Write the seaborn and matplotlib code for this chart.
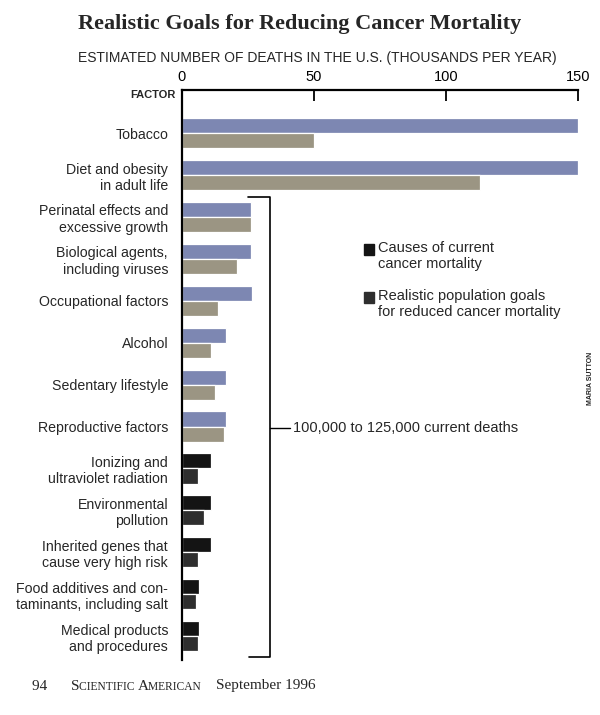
import pandas as pd
import matplotlib.pyplot as plt
import seaborn as sns
from matplotlib.patches import Rectangle
from matplotlib.offsetbox import TextArea, HPacker, AnchoredOffsetbox

# Données (milliers de décès par an)
factors = [
    "Tobacco",
    "Diet and obesity\nin adult life",
    "Perinatal effects and\nexcessive growth",
    "Biological agents,\nincluding viruses",
    "Occupational factors",
    "Alcohol",
    "Sedentary lifestyle",
    "Reproductive factors",
    "Ionizing and\nultraviolet radiation",
    "Environmental\npollution",
    "Inherited genes that\ncause very high risk",
    "Food additives and con-\ntaminants, including salt",
    "Medical products\nand procedures",
]
current = [150, 150, 26, 26, 26.5, 16.5, 16.5, 16.5, 11, 11, 11, 6.3, 6.5]
goal = [50, 113, 26, 21, 13.5, 11, 12.5, 16, 6, 8.5, 6, 5.3, 6]
series = ["Causes of current\ncancer mortality",
          "Realistic population goals\nfor reduced cancer mortality"]
n_dark = 5  # les derniers facteurs sont en noir

sns.set_theme(style="white")
plt.rcParams['font.family'] = ['Liberation Sans', 'DejaVu Sans']

data = pd.DataFrame({
    "factor": factors * 2,
    "deaths": current + goal,
    "series": [series[0]] * len(factors) + [series[1]] * len(factors),
})

fig = plt.figure(figsize=(6, 7.15), dpi=100)
ax = fig.add_axes([182 / 600, 1 - 660 / 715, 396 / 600, 570 / 715])

sns.barplot(data=data, y="factor", x="deaths", hue="series", order=factors,
            hue_order=series, palette=["#7d87b2", "#9b9583"], orient="h",
            width=0.72, errorbar=None, legend=False, ax=ax, saturation=1,
            linewidth=0.9, edgecolor="white")

# les cinq derniers facteurs en noir / gris foncé
for i, bar in enumerate(ax.containers[0]):
    if i >= len(factors) - n_dark:
        bar.set_facecolor("#141414")
for i, bar in enumerate(ax.containers[1]):
    if i >= len(factors) - n_dark:
        bar.set_facecolor("#2e2e2e")

ax.set_xlim(0, 150)
ax.set_ylim(12.57, -1.03)
ax.xaxis.tick_top()
ax.set_xticks([0, 50, 100, 150])
ax.tick_params(axis="x", direction="in", length=8, width=1.3, labelsize=10.5,
               pad=4, colors="black")
ax.tick_params(axis="y", length=0, pad=10, labelsize=10.2)
ax.set_xlabel("")
ax.set_ylabel("")
for s in ["right", "bottom"]:
    ax.spines[s].set_visible(False)
for s in ["top", "left"]:
    ax.spines[s].set_color("black")
    ax.spines[s].set_linewidth(1.6)
    ax.spines[s].set_zorder(5)

# crochet "100,000 to 125,000"
bx = 33.3
ax.plot([25, bx, bx, 25.5], [1.53, 1.53, 12.5, 12.5], color="black", lw=1.2,
        clip_on=False)
ax.plot([bx, 41], [7.04, 7.04], color="black", lw=1.0, clip_on=False)
ax.text(42, 7.04, "100,000 to 125,000 current deaths", va="center",
        ha="left", fontsize=10.5)

# légende
for ytop, col, lab in [(244, "#141414", series[0]), (292, "#2e2e2e", series[1])]:
    fig.patches.append(Rectangle((364 / 600, 1 - (ytop + 11) / 715), 10 / 600, 11 / 715,
                                 transform=fig.transFigure, color=col))
    fig.text(378 / 600, 1 - (ytop - 3) / 715, lab, ha="left", va="top",
             fontsize=10.5, linespacing=1.15)

# titres
fig.text(0.5, 1 - 24 / 715, "Realistic Goals for Reducing Cancer Mortality",
         ha="center", va="center", fontsize=16, fontweight="bold",
         family="Liberation Serif")
fig.text(317 / 600, 1 - 58 / 715,
         "ESTIMATED NUMBER OF DEATHS IN THE U.S. (THOUSANDS PER YEAR)",
         ha="center", va="center", fontsize=10)
fig.text(176 / 600, 1 - 95 / 715, "FACTOR", ha="right", va="center",
         fontsize=8, fontweight="bold")
fig.text(590 / 600, 1 - 378 / 715, "MARIA SUTTON", rotation=90, ha="center",
         va="center", fontsize=5, fontweight="bold")

# pied de page façon revue
big = dict(fontsize=11, family="Liberation Serif")
small = dict(fontsize=8.3, family="Liberation Serif")
parts = [TextArea("94      ", textprops=big), TextArea("S", textprops=big),
         TextArea("CIENTIFIC ", textprops=small), TextArea("A", textprops=big),
         TextArea("MERICAN     ", textprops=small),
         TextArea("September 1996", textprops=big)]
footer = HPacker(children=parts, align="baseline", pad=0, sep=0)
box = AnchoredOffsetbox(loc="center left", child=footer, frameon=False,
                        bbox_to_anchor=(32 / 600, 1 - 686 / 715),
                        bbox_transform=fig.transFigure, borderpad=0, pad=0)
fig.add_artist(box)

fig.savefig("out.png", dpi=100)
